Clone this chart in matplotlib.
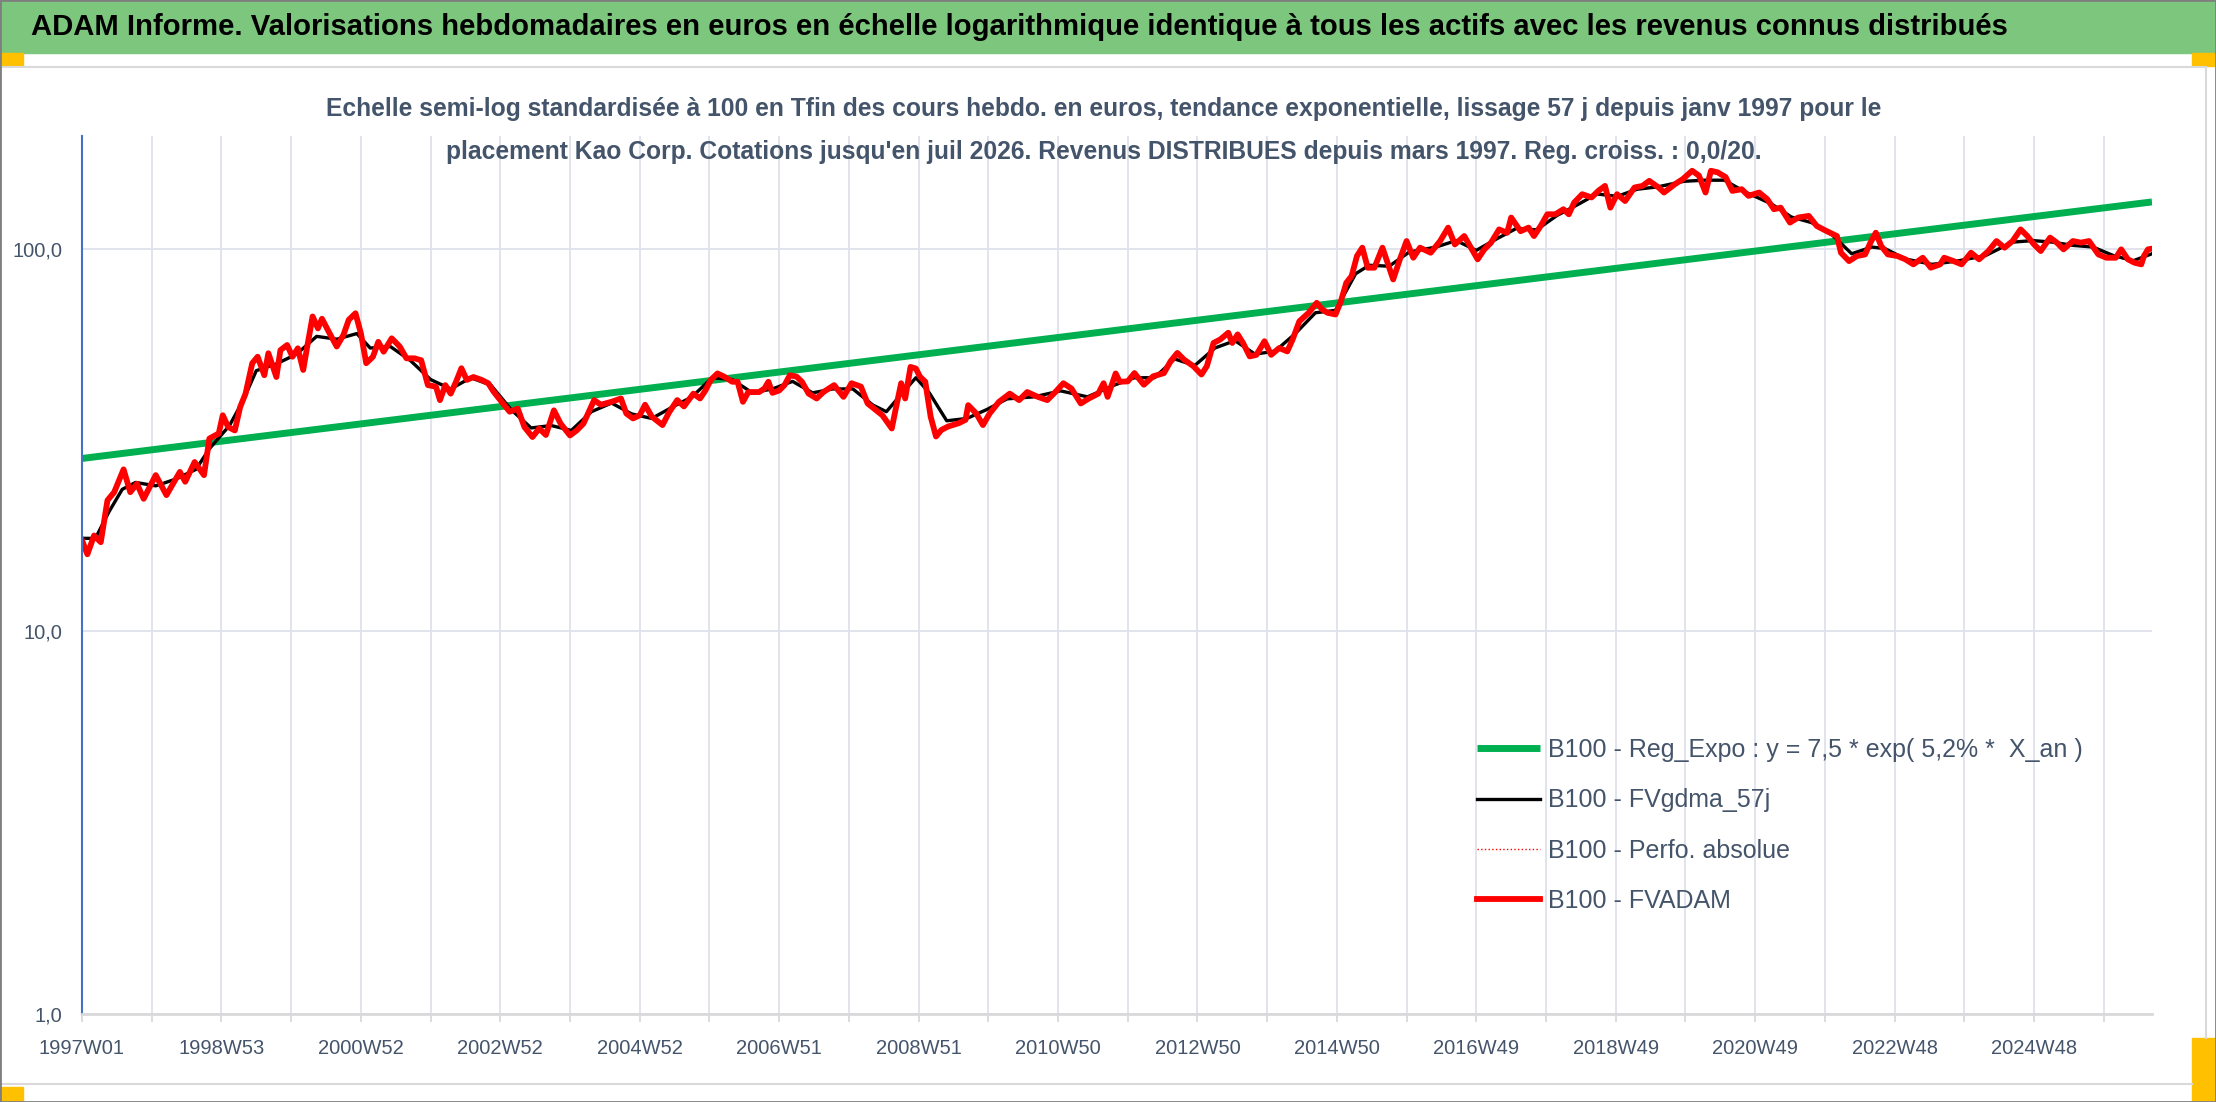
import numpy as np
import matplotlib
matplotlib.use('Agg')
import matplotlib.pyplot as plt
from matplotlib.patches import Rectangle
from matplotlib.lines import Line2D
from matplotlib.ticker import NullLocator

# Weekly index (0 = 1997W01) and B100 values
red_weeks = [0, 4, 9, 14, 19, 24, 31, 36, 41, 46, 55, 63, 73, 77, 84, 91, 95, 102, 105, 109,
             114, 118, 122, 127, 131, 136, 139, 145, 148, 153, 157, 161, 165, 168, 172, 176,
             179, 184, 190, 195, 199, 204, 208, 212, 217, 221, 225, 231, 237, 242, 248, 253,
             258, 264, 267, 271, 275, 279, 283, 287, 292, 298, 303, 307, 314, 319, 325, 330,
             336, 341, 346, 352, 357, 364, 369, 374, 382, 387, 395,
             402, 406, 411, 416, 420, 425, 433, 438, 444, 449, 456, 461, 465, 469, 474, 479,
             485, 489, 493, 497, 505, 509, 512, 515, 520, 524, 528, 533, 537, 542, 548, 553,
             561, 568, 574, 581, 586, 592, 597, 604, 607, 611, 614, 618, 622, 625, 629, 633,
             637, 641, 646, 654, 659, 661, 667, 672, 677, 684, 692, 699, 705, 713, 720, 726,
             732, 738, 745, 751, 758, 762, 765, 771, 774, 780,
             785, 792, 799, 807, 812, 817, 822, 829, 835, 839, 844, 849, 855, 858, 862, 866,
             871, 876, 882, 887, 893, 899, 903, 908, 915, 921, 925, 929, 935, 939, 943, 947,
             951, 955, 959, 964, 970, 978, 983, 988, 993, 998, 1006, 1013, 1019, 1024, 1031,
             1036, 1041, 1046, 1051, 1057, 1063, 1066, 1073, 1079, 1083, 1088, 1093, 1099,
             1105, 1109, 1113, 1119, 1126, 1131, 1136, 1140, 1145, 1151, 1158, 1164, 1169,
             1176, 1180, 1188, 1194, 1201, 1206, 1211, 1215, 1220, 1226, 1231, 1238, 1243,
             1251, 1257, 1262, 1267, 1274, 1280, 1288, 1294, 1301, 1309, 1312, 1318, 1324,
             1330, 1334, 1338, 1342, 1347, 1354, 1360, 1366, 1373, 1379, 1386, 1389, 1396,
             1402, 1409, 1415, 1422, 1428, 1434, 1440, 1446, 1451, 1456, 1461, 1468, 1473,
             1478, 1485, 1491, 1497, 1504, 1510, 1517, 1521, 1526, 1531, 1536, 1538, 1541, 1544]
red_values = [17.3, 15.9, 17.8, 17.1, 22.0, 23.1, 26.5, 23.1, 24.3, 22.2, 25.6, 22.7, 26.1, 24.6,
              27.7, 25.6, 31.9, 32.9, 36.7, 34.2, 33.5, 38.6, 41.8, 50.2, 52.2, 46.7, 53.3, 46.2,
              54.3, 56.0, 52.2, 54.9, 48.2, 55.5, 66.5, 61.9, 65.6, 60.7, 55.5, 59.5, 65.2, 67.8,
              60.1, 50.2, 52.2, 57.1, 53.8, 58.3, 55.5, 51.7, 51.7, 51.1, 44.0, 43.6, 40.2, 44.0,
              41.8, 44.9, 48.7, 45.4, 46.2, 45.4, 44.5, 42.3, 39.4, 37.5, 38.2, 34.2, 32.2, 33.9,
              32.6, 37.8, 34.9, 32.5, 33.5, 34.9, 40.2, 39.1, 39.8,
              40.6, 37.1, 36.0, 36.7, 39.1, 36.4, 34.6, 37.4, 40.2, 38.7, 41.8, 40.6, 42.6, 45.4,
              47.2, 46.3, 44.9, 44.9, 39.8, 42.2, 42.2, 43.1, 44.9, 42.0, 42.6, 44.0, 46.7, 46.3,
              44.9, 41.8, 40.6, 42.2, 44.0, 41.0, 44.5, 43.6, 39.4, 37.9, 36.7, 33.9, 38.2, 44.5,
              40.6, 49.1, 48.6, 46.3, 44.9, 36.4, 32.3, 33.6, 34.3, 35.0, 35.7, 39.0, 37.1, 34.6,
              37.1, 39.8, 41.8, 40.2, 42.2, 41.0, 40.2, 42.2, 44.5, 43.1, 39.4, 40.6, 41.8, 44.5,
              41.0, 47.2, 44.9, 45.0,
              47.3, 44.1, 46.4, 47.3, 50.8, 53.4, 51.3, 49.3, 46.9, 49.3, 56.7, 57.9, 60.3, 56.7,
              59.7, 56.7, 52.3, 52.8, 57.3, 52.8, 55.0, 53.9, 57.9, 64.6, 68.0, 72.2, 69.4, 68.0,
              67.3, 72.9, 81.4, 84.8, 95.7, 100.6, 89.2, 89.2, 100.6, 83.1, 93.8, 104.7, 94.7,
              100.6, 97.6, 104.7, 113.5, 102.6, 107.9, 100.6, 93.8, 99.6, 103.7, 112.3, 110.0,
              120.6, 111.1, 113.5, 107.9, 114.6, 123.0, 123.0, 126.8, 123.0, 132.0, 138.8, 136.1,
              141.6, 145.9, 128.0, 138.8, 133.2, 144.5, 145.9, 150.4, 144.5,
              140.2, 147.3, 152.0, 159.8, 155.3, 140.2, 159.8, 158.3, 153.8, 141.6, 143.0, 137.4,
              140.2, 134.7, 126.8, 128.0, 117.0, 120.6, 121.8, 114.6, 111.3, 107.9, 97.6, 92.8,
              95.7, 96.6, 103.7, 110.1, 101.6, 96.6, 95.7, 93.8, 91.0, 94.7, 89.2, 91.0, 94.7,
              92.8, 91.0, 97.6, 93.8, 98.6, 104.7, 100.6, 104.7, 112.3, 107.9, 102.6, 98.6, 106.9,
              103.7, 99.6, 104.7, 103.7, 104.7, 96.6, 94.7, 94.7, 99.6, 93.8, 91.9, 91.0, 95.7,
              99.6, 100.0]

# 57-day smoothed valuation (black), read at a coarser step
smooth_weeks = [0, 10, 20, 30, 40, 55, 70, 85, 95, 110, 120, 130, 145, 160, 175, 190, 205, 215,
                230, 245, 260, 275, 290, 305, 320, 335, 350, 365, 380, 395, 410, 425, 440, 455,
                470, 485, 500, 515, 530, 545, 560, 575, 590, 600, 612, 622, 632, 645, 660, 675,
                690, 710, 730, 750, 770, 785, 800, 815, 830, 845, 860, 875, 890, 905, 920, 935,
                950, 960, 975, 990, 1010, 1025, 1040, 1055, 1070, 1085, 1100, 1115, 1130, 1145,
                1160, 1175, 1195, 1210, 1225, 1240, 1260, 1275, 1290, 1305, 1320, 1335, 1345,
                1360, 1380, 1400, 1420, 1440, 1455, 1470, 1485, 1500, 1515, 1530, 1544]
smooth_values = [17.5, 17.5, 20.5, 23.5, 24.5, 24.0, 25.0, 26.5, 30.0, 34.5, 40.0, 48.0, 50.0,
                 53.0, 59.0, 58.0, 60.0, 55.0, 55.5, 51.0, 45.5, 43.0, 46.0, 44.0, 38.0, 34.0,
                 34.5, 33.5, 37.5, 39.5, 37.0, 36.0, 38.5, 41.0, 46.0, 45.5, 42.0, 43.0, 45.0,
                 42.0, 43.0, 43.0, 39.0, 37.5, 42.0, 46.0, 42.0, 35.5, 36.0, 38.0, 40.5, 41.0,
                 42.5, 41.0, 44.0, 46.0, 46.0, 51.5, 49.5, 55.0, 57.5, 53.0, 54.0, 60.0, 68.0,
                 69.0, 86.0, 90.5, 90.0, 98.0, 101.0, 105.0, 99.0, 106.0, 113.0, 112.0, 122.0,
                 130.0, 139.0, 137.0, 143.0, 145.0, 150.0, 151.0, 151.0, 141.0, 131.0, 121.0,
                 117.0, 109.0, 97.0, 101.0, 100.0, 94.0, 91.0, 93.0, 96.0, 104.0, 105.0, 104.0,
                 102.0, 101.0, 96.0, 93.0, 97.0]

# exponential regression line, start and end values
reg_weeks = [0, 1544]
reg_values = [28.3, 132.5]

tick_labels = ['1997W01', '1998W53', '2000W52', '2002W52', '2004W52', '2006W51', '2008W51',
               '2010W50', '2012W50', '2014W50', '2016W49', '2018W49', '2020W49', '2022W48',
               '2024W48']

legend_labels = ['B100 - Reg_Expo : y = 7,5 * exp( 5,2% *  X_an )',
                 'B100 - FVgdma_57j',
                 'B100 - Perfo. absolue',
                 'B100 - FVADAM']

title = ("ADAM Informe. Valorisations hebdomadaires en euros en échelle logarithmique "
         "identique à tous les actifs avec les revenus connus distribués")
subtitle1 = ("Echelle semi-log standardisée à 100 en Tfin des cours hebdo. en euros, tendance "
             "exponentielle, lissage 57 j depuis janv 1997 pour le")
subtitle2 = ("placement Kao Corp. Cotations jusqu'en juil 2026. Revenus DISTRIBUES depuis "
             "mars 1997. Reg. croiss. : 0,0/20.")

TXT = '#44546A'
W, H = 2216, 1102

plt.rcParams['font.family'] = ['Liberation Sans', 'DejaVu Sans']

fig = plt.figure(figsize=(W / 100, H / 100), dpi=100)


def fx(px):
    return px / W


def fy(py):
    return 1 - py / H


def fit_width(txt, target_px):
    # shrink/grow the font so the text spans the width measured on the reference
    r = fig.canvas.get_renderer()
    w = txt.get_window_extent(renderer=r).width
    txt.set_fontsize(txt.get_fontsize() * target_px / w)


# frame pieces
fig.patches.append(Rectangle((0, fy(53)), 1, 53 / H, color='#7DC67D',
                             transform=fig.transFigure, zorder=0))
for x0, y0, w, h in [(0, 53, 23, 13), (2192, 53, 22, 13), (0, 1087, 23, 15), (2192, 1038, 24, 64)]:
    fig.patches.append(Rectangle((fx(x0), fy(y0 + h)), w / W, h / H, color='#FFC000',
                                 transform=fig.transFigure, zorder=1))
for xs, ys in [([0, 2206], [67, 67]), ([0, 2192], [1084, 1084]), ([2206, 2206], [67, 1038])]:
    fig.lines.append(Line2D([fx(v) for v in xs], [fy(v) for v in ys], color='#D9D9D9',
                            lw=1.5, transform=fig.transFigure))
fig.patches.append(Rectangle((0, 0), 1, 1, fill=False, ec='#7F7F7F', lw=2,
                             transform=fig.transFigure, zorder=2))

t_title = fig.text(fx(31), fy(27), title, fontsize=24, fontweight='bold', color='black',
                   ha='left', va='center')
t_sub1 = fig.text(fx(1104), fy(109), subtitle1, fontsize=18, fontweight='bold', color=TXT,
                  ha='center', va='center')
t_sub2 = fig.text(fx(1104), fy(152), subtitle2, fontsize=18, fontweight='bold', color=TXT,
                  ha='center', va='center')

ax = fig.add_axes([fx(82), fy(1014), (2152 - 82) / W, (1014 - 136) / H])

ax.plot(reg_weeks, reg_values, color='#00B050', lw=5, solid_capstyle='butt',
        label=legend_labels[0])
ax.plot(smooth_weeks, smooth_values, color='black', lw=2.4, solid_joinstyle='round',
        label=legend_labels[1])
ax.plot(red_weeks, red_values, color='#FF0000', lw=1, ls=':', label=legend_labels[2])
ax.plot(red_weeks, red_values, color='#FF0000', lw=4.2, solid_joinstyle='round',
        label=legend_labels[3])

ax.set_yscale('log')
ax.set_ylim(1, 197)
ax.set_xlim(0, 1544)
ax.set_yticks([1, 10, 100])
ax.set_yticklabels(['1,0', '10,0', '100,0'])
ax.yaxis.set_minor_locator(NullLocator())

xt = np.arange(0, 1545, 52)
ax.set_xticks(xt)
ax.set_xticklabels([tick_labels[i // 2] if i % 2 == 0 and i // 2 < len(tick_labels) else ''
                    for i in range(len(xt))])

ax.grid(True, color='#DEE2EA', lw=1.3)
ax.set_axisbelow(True)
for s in ['top', 'right']:
    ax.spines[s].set_visible(False)
ax.spines['left'].set_color('#4472C4')
ax.spines['left'].set_linewidth(1.5)
ax.spines['bottom'].set_color('#D9D9D9')
ax.spines['bottom'].set_linewidth(2)

ax.tick_params(axis='x', length=6, width=1.3, color='#D9D9D9', labelsize=14.5,
               labelcolor=TXT, pad=12)
ax.tick_params(axis='y', length=0, labelsize=14.5, labelcolor=TXT, pad=14)

leg = ax.legend(loc='upper left', bbox_to_anchor=(fx(1477), fy(738)),
                bbox_transform=fig.transFigure, frameon=False, fontsize=18,
                handlelength=2.5, handletextpad=0.35, labelspacing=1.05, borderpad=0,
                borderaxespad=0, labelcolor=TXT)

fit_width(t_title, 1983)
fit_width(t_sub1, 1552)
fit_width(t_sub2, 1315)

fig.savefig('out.png', dpi=100)
